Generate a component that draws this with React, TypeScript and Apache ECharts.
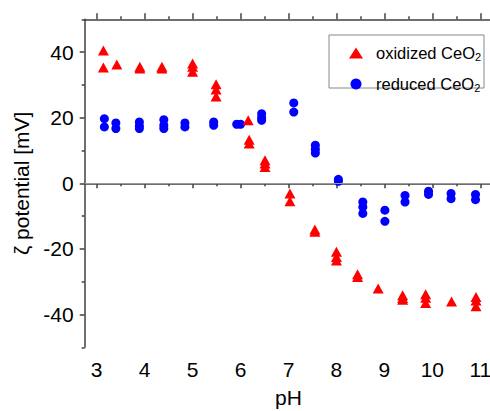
import React, { useEffect, useRef } from "react";
import * as echarts from "echarts";

const oxPH = [3.14, 3.14, 3.42, 3.9, 3.9, 4.36, 4.36, 5.0, 5.0, 5.0, 5.49, 5.49, 5.49, 6.16, 6.18, 6.18, 6.51, 6.51, 6.51, 7.03, 7.03, 7.55, 7.55, 8.0, 8.0, 8.0, 8.44, 8.44, 8.87, 9.38, 9.38, 9.38, 9.86, 9.86, 9.86, 10.4, 10.91, 10.91, 10.91];
const oxZeta = [40.5, 35.3, 36.2, 35.5, 35.0, 35.5, 35.0, 36.5, 35.5, 34.0, 30.2, 28.6, 26.5, 19.2, 13.3, 12.1, 7.0, 6.0, 5.0, -3.1, -5.5, -14.1, -14.8, -20.9, -22.5, -23.5, -27.7, -28.6, -32.1, -34.1, -35.0, -35.5, -33.8, -34.9, -36.5, -36.0, -34.7, -35.7, -37.5];

const redPH = [3.16, 3.16, 3.4, 3.4, 3.89, 3.89, 3.89, 4.4, 4.4, 4.4, 4.84, 4.84, 5.44, 5.44, 5.92, 6.0, 6.44, 6.44, 6.44, 7.11, 7.11, 7.56, 7.56, 7.56, 8.04, 8.04, 8.55, 8.55, 8.55, 9.01, 9.01, 9.43, 9.43, 9.92, 9.92, 10.39, 10.39, 10.9, 10.9];
const redZeta = [19.7, 17.2, 18.4, 16.7, 18.7, 17.5, 16.7, 19.4, 17.7, 16.7, 18.4, 17.2, 18.7, 17.7, 18.0, 18.0, 21.2, 20.0, 19.2, 24.5, 21.7, 11.6, 10.4, 9.2, 1.2, 0.6, -5.7, -7.2, -9.2, -8.2, -11.6, -3.7, -5.7, -2.4, -3.4, -3.1, -4.7, -3.4, -5.0];

const xMajor = [3, 4, 5, 6, 7, 8, 9, 10, 11];
const xMinor = [3.5, 4.5, 5.5, 6.5, 7.5, 8.5, 9.5, 10.5];
const yMajor = [-40, -20, 0, 20, 40];
const yMinor = [-50, -30, -10, 10, 30, 50];

const seriesNames = ["oxidized CeO2", "reduced CeO2"];

export default function App() {
  const ref = useRef<HTMLDivElement>(null);
  useEffect(() => {
    if (!ref.current) return;
    const chart = echarts.init(ref.current, undefined, { renderer: "svg" });
    const axisColor = "#404040";
    const font = "Arial, 'Liberation Sans', sans-serif";
    const xBase = { type: "value", min: 2.75, max: 11.25, splitLine: { show: false } };
    const yBase = { type: "value", min: -50, max: 50, splitLine: { show: false } };
    const oxData = oxPH.map((x, i) => [x, oxZeta[i]]);
    const redData = redPH.map((x, i) => [x, redZeta[i]]);
    chart.setOption({
      animation: false,
      backgroundColor: "#ffffff",
      grid: { left: 84.7, top: 19.3, bottom: 63.7, right: -2.3, containLabel: false, outerBoundsMode: "none" },
      xAxis: [
        {
          ...xBase,
          position: "bottom",
          name: "pH",
          nameLocation: "middle",
          nameGap: 40,
          nameTextStyle: { fontSize: 21, color: "#000", fontFamily: font },
          axisLine: { show: true, lineStyle: { color: axisColor, width: 1.5 } },
          axisTick: { show: true, inside: false, length: 5, customValues: xMajor, lineStyle: { color: axisColor, width: 1.5 } },
          axisLabel: { show: true, margin: 12, fontSize: 21, color: "#000", fontFamily: font, customValues: xMajor },
        },
        {
          ...xBase,
          position: "bottom",
          axisLine: { show: false },
          axisTick: { show: true, length: 3, customValues: xMinor, lineStyle: { color: axisColor, width: 1.5 } },
          axisLabel: { show: false },
        },
        {
          ...xBase,
          position: "top",
          axisLine: { show: true, lineStyle: { color: axisColor, width: 1.5 } },
          axisTick: { show: true, length: 6, customValues: xMajor, lineStyle: { color: axisColor, width: 1.5 } },
          axisLabel: { show: false },
        },
        {
          ...xBase,
          position: "top",
          axisLine: { show: false },
          axisTick: { show: true, length: 3, customValues: xMinor, lineStyle: { color: axisColor, width: 1.5 } },
          axisLabel: { show: false },
        },
      ],
      yAxis: [
        {
          ...yBase,
          position: "left",
          name: "ζ potential [mV]",
          nameLocation: "middle",
          nameGap: 52,
          nameRotate: 90,
          nameTextStyle: { fontSize: 21, color: "#000", fontFamily: font },
          axisLine: { show: true, lineStyle: { color: axisColor, width: 1.5 } },
          axisTick: { show: true, length: 5, customValues: yMajor, lineStyle: { color: axisColor, width: 1.5 } },
          axisLabel: { show: true, margin: 11, fontSize: 21, color: "#000", fontFamily: font, customValues: yMajor },
        },
        {
          ...yBase,
          position: "left",
          axisLine: { show: false },
          axisTick: { show: true, length: 3, customValues: yMinor, lineStyle: { color: axisColor, width: 1.5 } },
          axisLabel: { show: false },
        },
      ],
      legend: {
        orient: "vertical",
        left: 344,
        top: 39,
        itemWidth: 14,
        itemHeight: 11,
        itemGap: 13,
        data: seriesNames,
        formatter: (name: string) => (name === seriesNames[0] ? "{a|oxidized CeO}{s|2}" : "{a|reduced CeO}{s|2}"),
        textStyle: {
          color: "#000",
          fontFamily: font,
          rich: {
            a: { fontSize: 16.5, fontFamily: font, color: "#000", lineHeight: 18, padding: [0, 0, 0, 8] },
            s: { fontSize: 11, fontFamily: font, color: "#000", lineHeight: 18, padding: [7, 0, 0, 0] },
          },
        },
      },
      graphic: [
        {
          type: "rect",
          shape: { x: 329, y: 35, width: 155, height: 53 },
          style: { fill: "#fff", stroke: "#888", lineWidth: 1 },
          z: 0,
          silent: true,
        },
      ],
      series: [
        {
          name: seriesNames[0],
          type: "scatter",
          xAxisIndex: 0,
          yAxisIndex: 0,
          symbol: "triangle",
          symbolSize: [11, 10],
          itemStyle: { color: "#ff0000", opacity: 1 },
          data: oxData,
          markLine: {
            silent: true,
            symbol: "none",
            label: { show: false },
            lineStyle: { color: "#9a9a9a", width: 1, type: "solid" },
            data: [{ yAxis: 0 }],
          },
          z: 3,
        },
        {
          name: seriesNames[1],
          type: "scatter",
          xAxisIndex: 0,
          yAxisIndex: 0,
          symbol: "circle",
          symbolSize: 9,
          itemStyle: { color: "#0000ff", opacity: 1 },
          data: redData,
          z: 2,
        },
      ],
    });
    return () => chart.dispose();
  }, []);
  return <div ref={ref} style={{ position: "fixed", left: 0, top: 0, width: 490, height: 411 }} />;
}
